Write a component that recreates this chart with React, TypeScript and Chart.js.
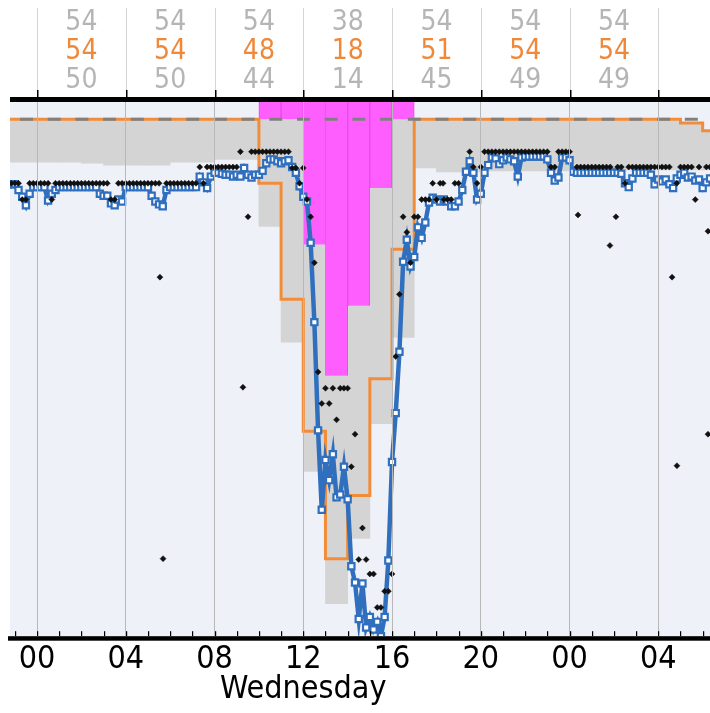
import React, { useEffect, useRef } from 'react';
import { Chart, registerables } from 'chart.js';

Chart.register(...registerables);

// ---------- axis ranges ----------
const X_MIN = -1.217;
const X_MAX = 30.33;
const Y_MIN = 0;
const Y_MAX = 56;
const SPEED_LIMIT = 54;

// ---------- hourly bins (hour starts -2 .. 30) ----------
const hourStarts = Array.from({ length: 33 }, (_, i) => i - 2);
const greyLow = [
  49.5, 49.5, 49.5, 49.5, 49.4, 49.2, 49.2, 49.2, 49.5, 49.5, 49.8, 49.8,
  42.8, 30.7, 17.2, 3.4, 10.2, 22.2, 31.2,
  48.9, 48.5, 48.5, 48.6, 48.6, 48.6, 48.6, 48.7, 48.7, 48.7, 48.7, 48.7, 48.7, 48.7,
];
const greyHigh = [
  54, 54, 54, 54, 54, 54, 54, 54, 54, 54, 54, 54, 54, 54,
  40.9, 27.2, 34.5, 46.8,
  54, 54, 54, 54, 54, 54, 54, 54, 54, 54, 54, 54, 54,
  53.6, 52.8,
];
const orangeSpeed = [
  54, 54, 54, 54, 54, 54, 54, 54, 54, 54, 54, 54,
  47.3, 35.2, 21.4, 8.1, 14.7, 26.9, 40.4,
  54, 54, 54, 54, 54, 54, 54, 54, 54, 54, 54, 54,
  53.6, 52.8,
];
const eventHours = [10, 11, 12, 13, 14, 15, 16];

// ---------- 10-minute series (first sample at -80 min) ----------
const SAMPLE_START_HOUR = -8 / 6;
const SAMPLE_STEP_HOUR = 1 / 6;
const blueSpeed = [
  47.2, 47.2, 47.2, 46.6, 45.9, 45.0, 46.2, 46.9, 46.9, 46.9,
  46.9, 45.5, 46.2, 46.6, 46.9, 46.9, 46.9, 46.9, 46.9, 46.9,
  46.9, 46.9, 46.9, 46.9, 46.9, 46.2, 46.0, 46.0, 45.2, 45.0,
  45.6, 45.4, 46.9, 46.9, 46.9, 46.9, 46.9, 46.9, 46.9, 46.0,
  45.4, 45.1, 44.9, 46.6, 46.9, 46.9, 46.9, 46.9, 46.9, 46.9,
  46.9, 46.9, 48.0, 47.4, 46.8, 48.0, 48.4, 48.4, 48.3, 48.2,
  48.2, 48.0, 48.2, 48.0, 48.9, 48.2, 47.9, 48.2, 48.2, 48.6,
  49.4, 49.8, 49.8, 49.6, 49.4, 49.6, 49.7, 49.0, 48.4, 47.0,
  45.9, 45.4, 41.1, 32.8, 21.5, 13.2, 18.4, 16.3, 19.0, 14.5,
  14.8, 17.7, 14.3, 7.3, 5.6, 1.8, 5.5, 0.9, 2.0, 0.7,
  1.5, 0.0, 2.0, 7.9, 18.2, 23.3, 29.7, 39.1, 41.4, 38.6,
  39.6, 42.7, 41.6, 43.2, 45.3, 45.8, 45.6, 45.4, 45.6, 45.4,
  44.9, 44.9, 45.4, 46.6, 48.5, 49.6, 48.4, 45.6, 46.2, 48.4,
  49.2, 50.0, 49.9, 49.3, 49.7, 50.0, 49.8, 49.6, 48.0, 50.0,
  50.1, 50.1, 50.1, 50.1, 50.1, 50.1, 49.8, 48.4, 47.6, 47.9,
  50.0, 50.0, 49.7, 48.5, 48.4, 48.4, 48.4, 48.4, 48.4, 48.4,
  48.4, 48.4, 48.4, 48.4, 48.4, 48.4, 48.3, 47.3, 46.9, 47.8,
  48.4, 48.4, 48.4, 48.4, 48.2, 47.2, 47.7, 47.5, 47.7, 47.2,
  46.8, 47.8, 48.2, 48.4, 47.9, 48.0, 47.6, 47.7, 46.8, 47.4, 47.8,
];
const rawSpeed = [
  47.3, 47.3, 47.3, 47.3, 45.6, 45.6, 47.3, 47.3, 47.3, 47.3,
  47.3, 47.3, 45.6, 47.3, 47.3, 47.3, 47.3, 47.3, 47.3, 47.3,
  47.3, 47.3, 47.3, 47.3, 47.3, 47.3, 47.3, 47.3, 45.6, 45.6,
  47.3, 47.3, 47.3, 47.3, 47.3, 47.3, 47.3, 47.3, 47.3, 47.3,
  47.3, 47.3, null, 47.3, 47.3, 47.3, 47.3, 47.3, 47.3, 47.3,
  47.3, 47.3, 49.0, 47.3, 49.0, 49.0, 49.0, 49.0, 49.0, 49.0,
  49.0, 49.0, 49.0, 50.6, null, null, 50.6, 50.6, 50.6, 50.6,
  50.6, 50.6, 50.6, 50.6, 50.6, 50.6, 50.6, 48.9, 48.9, 47.3,
  48.9, 45.6, 43.8, 39.0, 27.6, 24.3, 25.9, 24.3, 25.9, 22.6,
  25.9, 25.9, 25.9, 17.7, 21.1, 8.0, 11.3, 8.0, 6.5, 6.5,
  3.0, 3.0, 4.7, 4.7, 6.5, 29.2, 35.7, 43.8, 42.2, 39.0,
  43.8, 43.8, 45.6, 45.6, 45.6, 47.3, 45.6, 47.3, 45.6, 45.6,
  45.6, 47.3, 47.3, null, null, 50.6, 49.0, 47.3, 49.0, 50.6,
  50.6, 50.6, 50.6, 50.6, 50.6, 50.6, 50.6, 50.6, 50.6, 50.6,
  50.6, 50.6, 50.6, 50.6, 50.6, 50.6, 50.6, 49.0, 49.0, 50.6,
  50.6, 50.6, 50.6, null, 49.0, 49.0, 49.0, 49.0, 49.0, 49.0,
  49.0, 49.0, 49.0, 49.0, null, 49.0, 49.0, 47.3, 49.0, 49.0,
  49.0, 49.0, 49.0, 49.0, 49.0, 49.0, 49.0, 49.0, 49.0, 49.0,
  null, 47.3, 49.0, 49.0, 49.0, 49.0, 45.6, 49.0, null, 49.0, 49.0,
];
const extraDotHours = [5.54, 5.68, 9.28, 9.51, 18.3, 24.38, 25.82, 26.09, 28.62, 28.84, 30.24, 30.24];
const extraDotSpeeds = [37.5, 8.1, 26.0, 43.8, 47.3, 44.0, 40.8, 43.8, 37.5, 17.8, 21.1, 42.3];

// ---------- header table (4-hour bins) ----------
const binCenters = [2, 6, 10, 14, 18, 22, 26];
const binMax = [54, 54, 54, 38, 54, 54, 54];
const binMid = [54, 54, 48, 18, 51, 54, 54];
const binMin = [50, 50, 44, 14, 45, 49, 49];
const binEdges = [0, 4, 8, 12, 16, 20, 24, 28];
const DAY_LABEL = 'Wednesday';
const DAY_LABEL_HOUR = 12;

const FONT = '"Liberation Sans Narrow", "DejaVu Sans Condensed", sans-serif';

const decorPlugin = {
  id: 'decor',
  beforeDraw(chart: any) {
    const { ctx, chartArea: a } = chart;
    const x = chart.scales.x;
    ctx.save();
    ctx.fillStyle = '#eef1f8';
    ctx.fillRect(a.left, a.top, a.right - a.left, a.bottom - a.top);
    ctx.strokeStyle = '#d4d4d4';
    ctx.lineWidth = 1;
    for (const h of binEdges) {
      const px = Math.round(x.getPixelForValue(h)) + 0.5;
      ctx.beginPath();
      ctx.moveTo(px, 8);
      ctx.lineTo(px, a.top);
      ctx.stroke();
    }
    ctx.restore();
  },
  afterDraw(chart: any) {
    const { ctx, chartArea: a } = chart;
    const x = chart.scales.x;
    ctx.save();
    // top black band
    ctx.fillStyle = '#000';
    ctx.fillRect(a.left, a.top - 3, a.right - a.left, 5);
    // bottom axis line
    ctx.fillRect(a.left - 2, a.bottom, a.right - a.left + 2, 4.5);
    // top ticks
    for (const h of binEdges) {
      const px = Math.round(x.getPixelForValue(h));
      ctx.fillRect(px, a.top - 10, 1.5, 8);
    }
    // hourly minor ticks at bottom (inside)
    for (let h = Math.ceil(X_MIN); h <= Math.floor(X_MAX); h++) {
      const px = Math.round(x.getPixelForValue(h));
      ctx.fillRect(px, a.bottom - 5, 1.2, 5);
    }
    // header text
    ctx.font = `28px ${FONT}`;
    ctx.textAlign = 'center';
    ctx.textBaseline = 'alphabetic';
    binCenters.forEach((h, i) => {
      const px = x.getPixelForValue(h);
      ctx.fillStyle = '#b5b5b5';
      ctx.fillText(String(binMax[i]), px, 30);
      ctx.fillStyle = '#f0883a';
      ctx.fillText(String(binMid[i]), px, 59);
      ctx.fillStyle = '#b5b5b5';
      ctx.fillText(String(binMin[i]), px, 88);
    });
    ctx.restore();
  },
};

export default function App() {
  const canvasRef = useRef<HTMLCanvasElement | null>(null);

  useEffect(() => {
    document.body.style.margin = '0';
    const canvas = canvasRef.current;
    if (!canvas) return;

    const greyBars = hourStarts.map((h, i) => ({ x: h + 0.5, y: [greyLow[i], greyHigh[i]] }));
    const pinkBars = eventHours.map((h) => ({ x: h + 0.5, y: [greyHigh[h + 2], Y_MAX] }));
    const orangePts = hourStarts.map((h, i) => ({ x: h, y: orangeSpeed[i] }));
    orangePts.push({ x: hourStarts[hourStarts.length - 1] + 1, y: orangeSpeed[orangeSpeed.length - 1] });
    const bluePts = blueSpeed.map((v, i) => ({ x: SAMPLE_START_HOUR + i * SAMPLE_STEP_HOUR, y: v }));
    const dotPts: { x: number; y: number }[] = [];
    rawSpeed.forEach((v, i) => {
      if (v !== null) dotPts.push({ x: SAMPLE_START_HOUR + i * SAMPLE_STEP_HOUR, y: v });
    });
    extraDotHours.forEach((h, i) => dotPts.push({ x: h, y: extraDotSpeeds[i] }));

    const chart = new Chart(canvas, {
      type: 'line',
      data: {
        datasets: [
          {
            type: 'line',
            label: 'raw',
            data: dotPts,
            showLine: false,
            pointStyle: 'rectRot',
            pointRadius: 3,
            pointHoverRadius: 0,
            pointBackgroundColor: '#111',
            pointBorderColor: '#111',
            pointBorderWidth: 0.5,
            order: 0,
          },
          {
            type: 'line',
            label: 'smoothed',
            data: bluePts,
            borderColor: '#2f6fbe',
            borderWidth: 4.5,
            pointStyle: 'rect',
            pointRadius: 4.4,
            pointHoverRadius: 0,
            pointBackgroundColor: '#ffffff',
            pointBorderColor: '#2f6fbe',
            pointBorderWidth: 2.2,
            tension: 0,
            order: 1,
          },
          {
            type: 'line',
            label: 'limit',
            data: [{ x: X_MIN, y: SPEED_LIMIT }, { x: X_MAX, y: SPEED_LIMIT }],
            borderColor: '#808080',
            borderWidth: 3,
            borderDash: [13, 14.7],
            borderDashOffset: 17.7,
            pointRadius: 0,
            order: 2,
          },
          {
            type: 'line',
            label: 'typical',
            data: orangePts,
            borderColor: '#f28c38',
            borderWidth: 3,
            stepped: 'before',
            pointRadius: 0,
            order: 3,
          },
          {
            type: 'bar',
            label: 'event',
            data: pinkBars as any,
            backgroundColor: '#ff5eff',
            borderColor: '#e64ae6',
            borderWidth: { left: 1, right: 1, top: 0, bottom: 0 },
            borderSkipped: false,
            barPercentage: 1,
            categoryPercentage: 1,
            grouped: false,
            order: 4,
          },
          {
            type: 'bar',
            label: 'range',
            data: greyBars as any,
            backgroundColor: '#d4d4d4',
            borderWidth: 0,
            barPercentage: 1,
            categoryPercentage: 1,
            grouped: false,
            order: 5,
          },
        ] as any,
      },
      options: {
        animation: false,
        responsive: false,
        devicePixelRatio: 1,
        events: [],
        layout: { autoPadding: false, padding: { left: 10, right: 0, top: 100, bottom: 0 } },
        plugins: {
          legend: { display: false },
          tooltip: { enabled: false },
          title: { display: false },
        },
        scales: {
          x: {
            type: 'linear',
            min: X_MIN,
            max: X_MAX,
            offset: false,
            grid: { color: '#b8b8b8', lineWidth: 1, drawTicks: false, offset: false, z: 1 },
            border: { display: false },
            ticks: {
              stepSize: 4,
              includeBounds: false,
              autoSkip: false,
              maxRotation: 0,
              padding: 8,
              color: '#000',
              font: { family: FONT, size: 32, lineHeight: 0.95 },
              callback: (v: any) => {
                const h = Number(v);
                const label = String(((h % 24) + 24) % 24).padStart(2, '0');
                return h === DAY_LABEL_HOUR ? [label, DAY_LABEL] : label;
              },
            },
          },
          y: { display: false, min: Y_MIN, max: Y_MAX },
        },
      } as any,
      plugins: [decorPlugin],
    });

    return () => chart.destroy();
  }, []);

  return (
    <div style={{ width: 710, height: 713 }}>
      <canvas ref={canvasRef} width={710} height={713} style={{ display: 'block' }} />
    </div>
  );
}
